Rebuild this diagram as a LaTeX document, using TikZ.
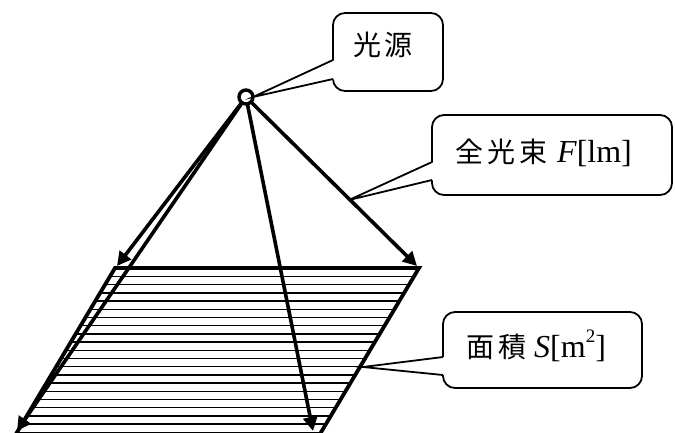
\documentclass[tikz,border=0pt]{standalone}
\usepackage{fontspec}
\setmainfont{Liberation Serif}
\newfontfamily\cjk{Noto Sans CJK JP}
\usetikzlibrary{arrows.meta}
\begin{document}
\begin{tikzpicture}[x=1pt,y=-1pt,
  box/.style={draw, line width=1.8pt, rounded corners=12pt, fill=white, inner sep=0pt},
  ray/.style={line width=3.6pt, -{Triangle[length=14pt,width=14pt]}},
  hatchline/.style={line width=1.5pt},
  plane/.style={line width=3.8pt, line join=miter},
  ptr/.style={line width=1.8pt, line join=miter},
  lbl/.style={anchor=base west, inner sep=0pt},
  cjkt/.style={font=\cjk\fontsize{28}{30}\selectfont},
  latt/.style={font=\rmfamily\fontsize{32}{36}\selectfont}]
\useasboundingbox (0,0) rectangle (675,432);
% plane corners
\coordinate (A) at (115,268);
\coordinate (B) at (419,268);
\coordinate (C) at (320,434);
\coordinate (D) at (16,434);
% hatching
\begin{scope}
  \clip (A) -- (B) -- (C) -- (D) -- cycle;
  \foreach \i in {0,...,18} {
    \draw[hatchline] (0,276.5+8.2*\i) -- (675,276.5+8.2*\i);
  }
\end{scope}
\draw[plane] (A) -- (B) -- (C) -- (D) -- cycle;
% rays
\coordinate (o) at (246,97);
\coordinate (r1) at (117,266);
\coordinate (r2) at (417,266);
\coordinate (r3) at (17,431);
\coordinate (r4) at (313,431);
\draw[ray] (o) -- (r1);
\draw[ray] (o) -- (r2);
\draw[ray] (o) -- (r3);
\draw[ray] (o) -- (r4);
\node[circle, draw, line width=3.4pt, fill=white, minimum size=14pt, inner sep=0pt] (src) at (o) {};
% callout boxes
\node[box, minimum width=110pt, minimum height=78pt] (b1) at (388,52) {};
\node[box, minimum width=240pt, minimum height=80pt] (b2) at (552,155) {};
\node[box, minimum width=199pt, minimum height=76pt] (b3) at (542.5,350) {};
% pointers
\coordinate (p1a) at (333,60);  \coordinate (p1b) at (333,79);  \coordinate (p1) at (253,97);
\coordinate (p2a) at (432,162); \coordinate (p2b) at (432,180); \coordinate (p2) at (349,200);
\coordinate (p3a) at (443,357); \coordinate (p3b) at (443,375); \coordinate (p3) at (363,367);
\fill[white] ([xshift=2pt]p1a) -- (p1) -- ([xshift=2pt]p1b) -- cycle;
\draw[ptr] (p1a) -- (p1) -- (p1b);
\fill[white] ([xshift=2pt]p2a) -- (p2) -- ([xshift=2pt]p2b) -- cycle;
\draw[ptr] (p2a) -- (p2) -- (p2b);
\fill[white] ([xshift=2pt]p3a) -- (p3) -- ([xshift=2pt]p3b) -- cycle;
\draw[ptr] (p3a) -- (p3) -- (p3b);
% labels
\node[lbl, cjkt] (t1) at (353,55) {光\hspace{3pt}源};
\node[lbl, cjkt] (t2a) at (455,162) {全\hspace{4pt}光\hspace{4pt}束};
\node[lbl, latt] (t2b) at (557,162) {\itshape F\upshape[lm]};
\node[lbl, cjkt] (t3a) at (466,357) {面\hspace{4pt}積};
\node[lbl, latt] (t3b) at (534,357) {\itshape S\upshape[m\raisebox{0.45em}{\fontsize{19}{20}\selectfont 2}]};
\end{tikzpicture}
\end{document}
